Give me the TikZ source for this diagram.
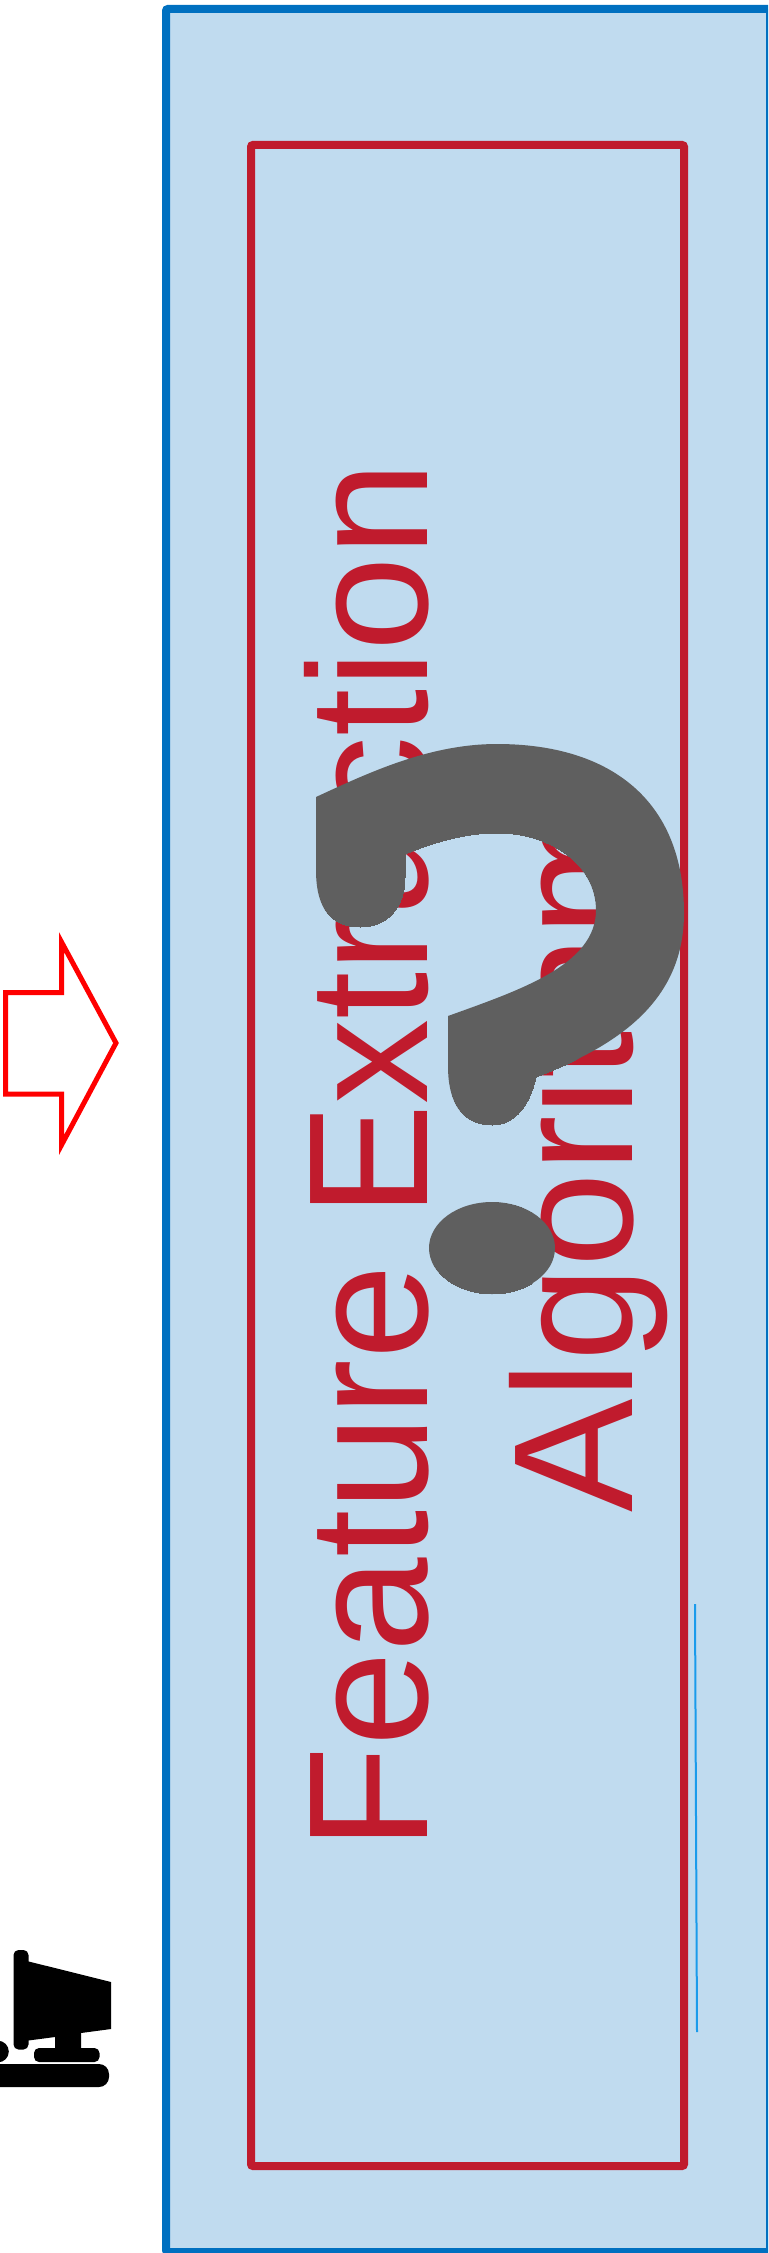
\documentclass[tikz,border=0pt]{standalone}
\usepackage{fontspec}
\setmainfont{Liberation Sans}
\definecolor{panelblue}{HTML}{C0DBEF}
\definecolor{edgeblue}{HTML}{0070C0}
\definecolor{boxred}{HTML}{C01B2D}
\definecolor{qgrey}{HTML}{5F5F5F}
\definecolor{thinblue}{HTML}{1A9BEB}
\tikzset{
  bigtext/.style={rotate=90,transform shape,anchor=base west,inner sep=0pt,text=boxred,font=\fontsize{170}{180}\selectfont},
  iconpart/.style={fill=black,draw=none}
}
\def\qshape{(316,797) .. controls (370,772) and (430,744) .. (497,744)
 .. controls (610,744) and (684,800) .. (684,913)
 .. controls (684,1000) and (620,1045) .. (536,1077)
 .. controls (530,1105) and (515,1125) .. (492,1125)
 .. controls (460,1125) and (448,1100) .. (448,1066)
 -- (448,1016)
 .. controls (520,990) and (596,965) .. (596,910)
 .. controls (596,865) and (550,833) .. (497,833)
 .. controls (465,833) and (435,842) .. (405,854)
 -- (405,877)
 .. controls (405,910) and (385,927) .. (360,927)
 .. controls (332,927) and (316,910) .. (316,870)
 -- cycle
 (492,1248) ellipse [x radius=63, y radius=46]}
\begin{document}
\begin{tikzpicture}[x=1pt,y=-1pt]
\useasboundingbox (0,0) rectangle (768,2253);
\clip (0,0) rectangle (768,2253);
\fill[white] (0,0) rectangle (768,2253);
% panels
\draw[draw=edgeblue,fill=panelblue,line width=8pt,rounded corners=2pt] (166,9) rectangle (770,2252);
\draw[draw=boxred,line width=8pt,rounded corners=2pt] (251,145) rectangle (684,2166);
\draw[draw=thinblue,line width=2pt] (695,1604) -- (697,2032);
% text
\node[bigtext] (feat) at (427,1851) {Feature Extraction};
\node[bigtext] (algo) at (632,1513) {Algorithm};
% question mark
\fill[qgrey] \qshape;
\begin{scope}
\clip \qshape;
\node[anchor=base west,inner sep=0pt,xscale=.93,transform shape,text=qgrey,font=\bfseries\fontsize{750}{760}\selectfont] (qm) at (285,1294) {?};
\end{scope}
% arrow
\draw[draw=red,line width=5pt,miter limit=10] (5.7,992.5) -- (61.5,992.5) -- (61.5,942) -- (116,1043) -- (61.5,1145) -- (61.5,1094) -- (5.7,1094) -- cycle;
% computer icon
\fill[iconpart,rounded corners=5pt] (13.5,1950) rectangle (28.5,2049.5);
\fill[iconpart] (26,1960.8) -- (111,1982) -- (111,2029) -- (81,2033) -- (81,2049) -- (55,2049) -- (55,2037) -- (26,2040.8) -- cycle;
\fill[iconpart,rounded corners=5pt] (34,2048) rectangle (99.5,2062);
\fill[iconpart,rounded corners=10pt] (-20,2064) rectangle (109,2087);
\fill[iconpart] (-2,2051.5) circle (10.8);
\end{tikzpicture}
\end{document}
